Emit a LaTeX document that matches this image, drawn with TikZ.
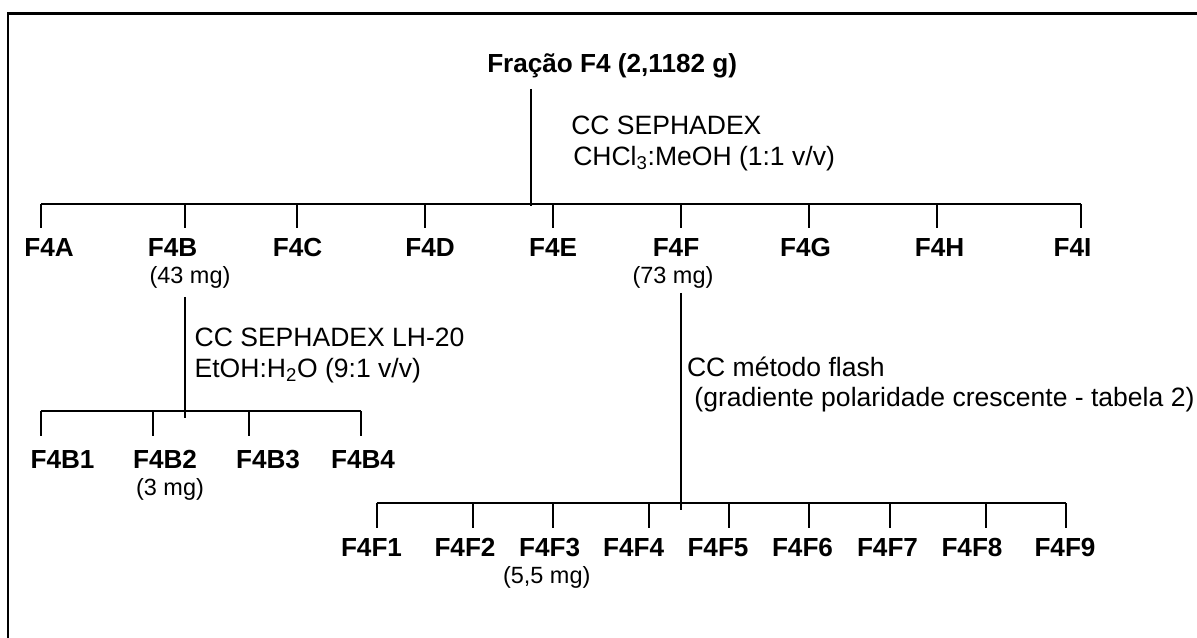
\documentclass[tikz,border=0pt]{standalone}
\usepackage{fontspec}
\setmainfont{Liberation Sans}
\tikzset{
  lbl/.style={inner sep=0pt, anchor=base, font=\fontsize{19.6pt}{23pt}\selectfont\bfseries},
  mass/.style={inner sep=0pt, anchor=base, font=\fontsize{17.6pt}{21pt}\selectfont},
  note/.style={inner sep=0pt, anchor=base west, font=\fontsize{19.9pt}{24pt}\selectfont},
  ln/.style={line width=1.5pt, line cap=butt},
  frame/.style={line width=1.6pt}
}
\begin{document}
\begin{tikzpicture}[x=0.75pt, y=-0.75pt]
\useasboundingbox (0,0) rectangle (1197,638);
% frame (top and left edges)
\coordinate (fa) at (8,638);
\coordinate (fb) at (8,13.5);
\coordinate (fc) at (1197,13.5);
\draw[frame] (fa) -- (fb) -- (fc);

% root
\node[note] (root) at (487,73) {\fontsize{19.6pt}{23pt}\selectfont\bfseries Fração F4 (2,1182 g)};
\coordinate (r1) at (531,89);
\coordinate (r2) at (531,206);
\draw[ln] (r1) -- (r2);
\node[note] (m1a) at (571,135) {CC SEPHADEX};
\node[note] (m1b) at (573,165.7) {CHCl\textsubscript{3}:MeOH (1:1 v/v)};

% level 1 bus
\coordinate (bus1L) at (41,204);
\coordinate (bus1R) at (1081,204);
\draw[ln] (bus1L) -- (bus1R);
\foreach \n/\x in {A/41,B/185,C/297,D/425,E/553,F/681,G/809,H/937,I/1081}{
  \coordinate (t\n) at (\x,204);
  \coordinate (u\n) at (\x,228);
  \draw[ln] (t\n) -- (u\n);
}
\node[lbl] (F4A) at (49,257) {F4A};
\node[lbl] (F4B) at (172.5,257) {F4B};
\node[lbl] (F4C) at (297.5,257) {F4C};
\node[lbl] (F4D) at (430,257) {F4D};
\node[lbl] (F4E) at (553,257) {F4E};
\node[lbl] (F4F) at (676,257) {F4F};
\node[lbl] (F4G) at (805.5,257) {F4G};
\node[lbl] (F4H) at (939.5,257) {F4H};
\node[lbl] (F4I) at (1072.6,257) {F4I};
\node[mass] (mB) at (190,284) {(43 mg)};
\node[mass] (mF) at (673,284) {(73 mg)};

% F4B branch
\coordinate (b1) at (185,297);
\coordinate (b2) at (185,418);
\draw[ln] (b1) -- (b2);
\node[note] (nB1) at (194.4,346.7) {CC SEPHADEX LH-20};
\node[note] (nB2) at (194.4,377.3) {EtOH:H\textsubscript{2}O (9:1 v/v)};
\coordinate (busBL) at (40.7,411);
\coordinate (busBR) at (360.7,411);
\draw[ln] (busBL) -- (busBR);
\foreach \n/\x in {1/40.7,2/152.7,3/248.7,4/360.7}{
  \coordinate (tb\n) at (\x,411);
  \coordinate (ub\n) at (\x,436);
  \draw[ln] (tb\n) -- (ub\n);
}
\node[lbl] (F4B1) at (62.5,468.3) {F4B1};
\node[lbl] (F4B2) at (165,468.3) {F4B2};
\node[lbl] (F4B3) at (268,468.3) {F4B3};
\node[lbl] (F4B4) at (363,468.3) {F4B4};
\node[mass] (mB2) at (170,495.5) {(3 mg)};

% F4F branch
\coordinate (f1) at (681,293);
\coordinate (f2) at (681,510);
\draw[ln] (f1) -- (f2);
\node[note] (nF1) at (686.8,376.7) {CC método flash};
\node[note] (nF2) at (686.8,406.7) {\ (gradiente polaridade crescente - tabela 2)};
\coordinate (busFL) at (376.7,503.3);
\coordinate (busFR) at (1065.7,503.3);
\draw[ln] (busFL) -- (busFR);
\foreach \n/\x in {1/376.7,2/473.3,3/552.7,4/649,5/729.3,6/809.3,7/889.6,8/985.7,9/1065.7}{
  \coordinate (tf\n) at (\x,503.3);
  \coordinate (uf\n) at (\x,528.3);
  \draw[ln] (tf\n) -- (uf\n);
}
\node[lbl] (F4F1) at (371.5,556.7) {F4F1};
\node[lbl] (F4F2) at (465,556.7) {F4F2};
\node[lbl] (F4F3) at (549.7,556.7) {F4F3};
\node[lbl] (F4F4) at (633.7,556.7) {F4F4};
\node[lbl] (F4F5) at (718,556.7) {F4F5};
\node[lbl] (F4F6) at (802.5,556.7) {F4F6};
\node[lbl] (F4F7) at (887.5,556.7) {F4F7};
\node[lbl] (F4F8) at (972,556.7) {F4F8};
\node[lbl] (F4F9) at (1065,556.7) {F4F9};
\node[mass] (mF3) at (546.7,583.5) {(5,5 mg)};
\end{tikzpicture}
\end{document}
